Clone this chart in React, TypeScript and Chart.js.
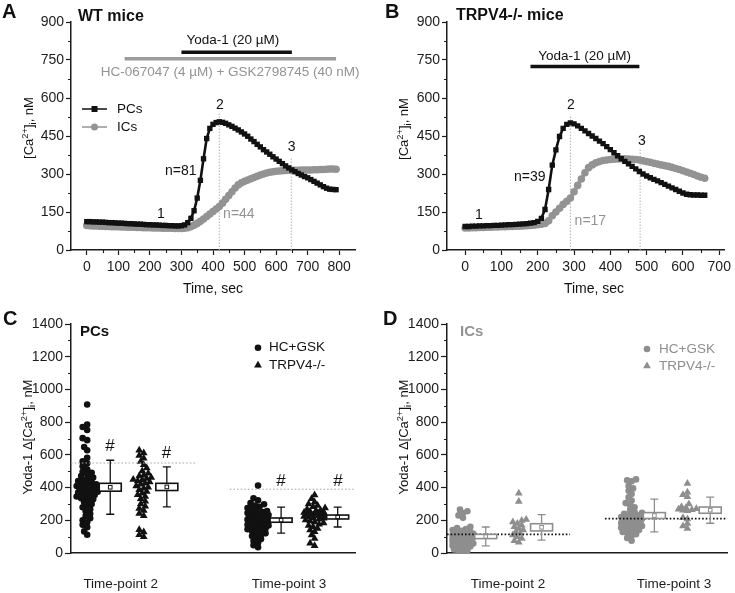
import React, { useEffect, useRef } from 'react';
import { Chart, registerables } from 'chart.js';

Chart.register(...registerables);

const FONT = "'Liberation Sans', Arial, Helvetica, sans-serif";
const BLACK = '#111111';
const AXIS = '#1c1c1c';
const GRAY = '#939393';
const LIGHT = '#b4b4b4';

// ---------------- Panel A: WT mice (time course, 10 s sampling) ----------------
const timeA = [
  0, 10, 20, 30, 40, 50, 60, 70, 80, 90,
  100, 110, 120, 130, 140, 150, 160, 170, 180, 190,
  200, 210, 220, 230, 240, 250, 260, 270, 280, 290,
  300, 310, 320, 330, 340, 350, 360, 370, 380, 390,
  400, 410, 420, 430, 440, 450, 460, 470, 480, 490,
  500, 510, 520, 530, 540, 550, 560, 570, 580, 590,
  600, 610, 620, 630, 640, 650, 660, 670, 680, 690,
  700, 710, 720, 730, 740, 750, 760, 770, 780, 790,
];
const pcsA = [
  112, 112, 111, 111, 110, 110, 109, 108, 108, 107,
  106, 106, 105, 104, 104, 103, 102, 102, 101, 100,
  100, 99, 99, 98, 97, 97, 96, 96, 95, 95,
  96, 99, 108, 125, 155, 205, 275, 360, 440, 480,
  496, 503, 506, 504, 500, 494, 488, 481, 474, 466,
  458, 449, 438, 428, 417, 407, 396, 387, 378, 368,
  359, 350, 341, 332, 324, 316, 309, 302, 296, 290,
  285, 278, 271, 264, 257, 250, 244, 240, 239, 238,
];
const icsA = [
  97, 96, 95, 95, 94, 94, 93, 93, 92, 92,
  92, 91, 91, 90, 90, 90, 89, 89, 88, 88,
  88, 87, 87, 87, 86, 86, 86, 86, 85, 85,
  85, 86, 88, 92, 98, 105, 113, 122, 132, 142,
  152, 162, 172, 185, 200, 215, 230, 245, 257, 265,
  271, 276, 281, 286, 291, 296, 300, 304, 307, 309,
  311, 312, 313, 314, 315, 315, 315, 315, 316, 316,
  316, 316, 317, 317, 318, 318, 319, 320, 320, 319,
];
const yodaA = [300, 650];
const inhibitorsA = [120, 790];
const timePointsA = [420, 648];

// ---------------- Panel B: TRPV4-/- mice ----------------
const timeB = [
  0, 10, 20, 30, 40, 50, 60, 70, 80, 90,
  100, 110, 120, 130, 140, 150, 160, 170, 180, 190,
  200, 210, 220, 230, 240, 250, 260, 270, 280, 290,
  300, 310, 320, 330, 340, 350, 360, 370, 380, 390,
  400, 410, 420, 430, 440, 450, 460, 470, 480, 490,
  500, 510, 520, 530, 540, 550, 560, 570, 580, 590,
  600, 610, 620, 630, 640, 650, 660,
];
const pcsB = [
  93, 93, 94, 94, 95, 95, 96, 96, 97, 97,
  98, 99, 100, 100, 101, 102, 103, 104, 106, 108,
  113, 125, 160, 239, 335, 395, 448, 480, 496, 502,
  498, 490, 480, 470, 460, 450, 440, 430, 420, 408,
  396, 384, 372, 360, 350, 340, 330, 320, 310, 300,
  292, 285, 279, 273, 266, 259, 252, 245, 239, 232,
  225, 220, 218, 217, 217, 216, 216,
];
const icsB = [
  87, 87, 88, 88, 89, 89, 90, 90, 91, 91,
  92, 92, 93, 93, 94, 94, 95, 96, 97, 98,
  100, 102, 105, 115, 135, 150, 165, 180, 192, 205,
  230, 255, 280, 305, 325, 336, 344, 349, 353, 355,
  357, 358, 359, 360, 360, 359, 358, 357, 355, 352,
  349, 346, 342, 339, 336, 333, 330, 326, 322, 318,
  313, 308, 303, 298, 292, 287, 283,
];
const yodaB = [180, 480];
const timePointsB = [290, 482];

// ---------------- Tick labels ----------------
const xTicksA = [0, 100, 200, 300, 400, 500, 600, 700, 800];
const xTicksB = [0, 100, 200, 300, 400, 500, 600, 700];
const yTicksTrace = [0, 150, 300, 450, 600, 750, 900];
const yTicksDelta = [0, 200, 400, 600, 800, 1000, 1200, 1400];
const groupLabels = ['Time-point 2', 'Time-point 3'];
const legendLabels = ['HC+GSK', 'TRPV4-/-'];

// ---------------- Panel C: PCs, Yoda-1 delta ----------------
const pcsTp2Hc = [
  908, 785, 770, 752, 702, 690, 648, 628, 582, 560,
  548, 530, 512, 496, 490, 482, 470, 462, 452, 446,
  440, 432, 426, 420, 415, 410, 405, 400, 396, 390,
  388, 384, 380, 378, 374, 370, 366, 360, 355, 350,
  345, 340, 334, 328, 320, 310, 300, 290, 280, 268,
  255, 240, 226, 212, 200, 188, 172, 158, 132, 112,
];
const pcsTp2Ko = [
  628, 612, 596, 580, 560, 540, 520, 502, 488, 476,
  470, 462, 456, 450, 446, 440, 434, 426, 420, 410,
  402, 396, 386, 376, 366, 356, 346, 332, 316, 300,
  286, 272, 260, 242, 228, 142, 128, 112, 100,
];
const pcsTp3Hc = [
  412, 335, 322, 305, 298, 290, 282, 275, 268, 262,
  256, 250, 245, 240, 236, 232, 228, 224, 220, 216,
  212, 208, 204, 200, 196, 192, 188, 184, 180, 176,
  172, 168, 164, 160, 155, 150, 145, 140, 134, 128,
  120, 112, 104, 95, 85, 75, 62, 48, 35,
];
const pcsTp3Ko = [
  355, 332, 312, 300, 290, 282, 275, 268, 262, 258,
  254, 250, 247, 244, 241, 238, 235, 232, 229, 226,
  223, 220, 216, 212, 207, 202, 196, 190, 184, 176,
  168, 160, 150, 140, 130, 110, 88, 60, 45,
];
const pcsMean = [402, 404, 201, 220];
const pcsSem = [24, 22, 13, 12];
const pcsSd = [165, 122, 80, 61];
const pcsControl = [550, 390];

// ---------------- Panel D: ICs, Yoda-1 delta ----------------
const icsTp2Hc = [
  265, 255, 245, 230, 215, 160, 152, 146, 140, 135,
  130, 126, 122, 118, 115, 112, 110, 107, 104, 101,
  98, 95, 92, 90, 87, 84, 81, 78, 75, 72,
  69, 66, 62, 58, 54, 50, 45, 40, 35, 30,
  22, 15, 8, 0,
];
const icsTp2Ko = [365, 315, 205, 198, 190, 180, 170, 160, 150, 140, 130, 120, 110, 100, 88, 75, 65];
const icsTp3Hc = [
  450, 444, 438, 410, 395, 380, 360, 340, 320, 305,
  292, 280, 262, 252, 246, 240, 235, 230, 225, 220,
  215, 210, 205, 200, 196, 192, 188, 184, 180, 175,
  170, 165, 160, 155, 150, 145, 140, 134, 128, 122,
  115, 105, 92, 75,
];
const icsTp3Ko = [425, 372, 356, 344, 300, 282, 276, 270, 267, 264, 261, 258, 215, 208, 180, 165, 150];
const icsMean = [101, 157, 229, 262];
const icsSem = [13, 22, 18, 19];
const icsSd = [58, 78, 100, 80];
const icsControl = [114, 210];

// ---------------- layout helpers (positions only) ----------------
const GROUP_X = [0.7, 3.15, 8.1, 10.55];
const BOX_X = [1.7, 4.15, 9.1, 11.55];
const Y_PX = 229 / 1400;
const X_PX = 284 / 12.3;

type Pt = { x: number; y: number };
const series = (t: number[], v: number[]): Pt[] => t.map((x, i) => ({ x, y: v[i] }));
const hline = (x0: number, x1: number, y: number): Pt[] => [{ x: x0, y }, { x: x1, y }];
const vline = (x: number, y0: number, y1: number): Pt[] => [{ x, y: y0 }, { x, y: y1 }];
const mids = (t: number[]) => t.slice(1).map((v, i) => (v + t[i]) / 2);

function swarm(values: number[], center: number): Pt[] {
  const order = values.map((_, i) => i).sort((a, b) => values[a] - values[b]);
  const placed: Pt[] = [];
  const out: Pt[] = new Array(values.length);
  const MIN_D = 4.4, STEP = 1.5, MAX_OFF = 11;
  for (const i of order) {
    const y = values[i] * Y_PX;
    let best = 0, bestD = -1;
    for (let k = 0; k <= 16; k++) {
      const off = (k % 2 === 1 ? -1 : 1) * Math.ceil(k / 2) * STEP;
      if (Math.abs(off) > MAX_OFF) continue;
      let d = Infinity;
      for (const p of placed) {
        if (Math.abs(p.y - y) < MIN_D) {
          const dd = Math.hypot(p.x - off, p.y - y);
          if (dd < d) d = dd;
        }
      }
      if (d >= MIN_D) { best = off; bestD = d; break; }
      if (d > bestD) { bestD = d; best = off; }
    }
    placed.push({ x: best, y });
    out[i] = { x: center + best / X_PX, y: values[i] };
  }
  return out;
}

const fixedTicks = (vals: number[]) => (scale: any) => { scale.ticks = vals.map((v) => ({ value: v })); };
const gridOpts = (len: number, draw = true) => ({ drawOnChartArea: false, drawTicks: draw, tickLength: draw ? len : 0, tickColor: AXIS, tickWidth: 1.2, color: AXIS, lineWidth: 1 });
const borderOpts = { display: true, color: AXIS, width: 1.5 };
const tickOpts = (padding: number, size = 14, cb?: any) => ({
  padding, font: { size, family: FONT }, color: AXIS, autoSkip: false, maxRotation: 0, minRotation: 0,
  callback: cb ?? ((v: number) => String(v)),
});
const base = (padding: any) => ({
  responsive: false, animation: false as const, devicePixelRatio: 1, events: [] as any[],
  layout: { autoPadding: false, padding },
  plugins: { legend: { display: false }, tooltip: { enabled: false } },
});

const lineDs = (data: Pt[], color: string, width: number, dash: number[] = []) => ({
  data, showLine: true, borderColor: color, borderWidth: width, borderDash: dash, pointRadius: 0, fill: false,
});
const traceDs = (data: Pt[], color: string, style: string, r: number, lw: number) => ({
  data, showLine: true, borderColor: color, borderWidth: lw, pointStyle: style, pointRadius: r,
  pointBackgroundColor: color, pointBorderColor: color, pointBorderWidth: 0,
});
const pointDs = (data: Pt[], style: string, r: number, color: string) => ({
  data, showLine: false, pointStyle: style, pointRadius: r,
  pointBackgroundColor: color, pointBorderColor: color, pointBorderWidth: 0,
});

type Note = { t: string; x: number; y: number; xd?: boolean; yd?: boolean; size?: number; bold?: boolean; color?: string; align?: CanvasTextAlign };
const fnt = (size: number, bold = false) => `${bold ? 'bold ' : ''}${size}px ${FONT}`;

function drawNotes(chart: any, notes: Note[]) {
  const ctx: CanvasRenderingContext2D = chart.ctx;
  const X = chart.scales.x, Y = chart.scales.y;
  ctx.save();
  for (const n of notes) {
    const px = n.xd ? X.getPixelForValue(n.x) : n.x;
    const py = n.yd ? Y.getPixelForValue(n.y) : n.y;
    ctx.font = fnt(n.size ?? 14, n.bold);
    ctx.fillStyle = n.color ?? BLACK;
    ctx.textAlign = n.align ?? 'center';
    ctx.textBaseline = 'middle';
    ctx.fillText(n.t, px, py);
  }
  ctx.restore();
}

type Part = [string, number];
const CA_TITLE: Part[] = [['[Ca', 0], ['2+', 1], [']', 0], ['i', -1], [', nM', 0]];
const DELTA_TITLE: Part[] = [['Yoda-1 Δ[Ca', 0], ['2+', 1], [']', 0], ['i', -1], [', nM', 0]];

function drawRich(ctx: CanvasRenderingContext2D, parts: Part[], x: number, y: number, size: number, color: string) {
  ctx.save();
  ctx.translate(x, y);
  ctx.rotate(-Math.PI / 2);
  const small = size * 0.72;
  let total = 0;
  const widths = parts.map(([t, m]) => {
    ctx.font = fnt(m ? small : size);
    const w = ctx.measureText(t).width;
    total += w;
    return w;
  });
  let cx = -total / 2;
  ctx.fillStyle = color;
  ctx.textAlign = 'left';
  ctx.textBaseline = 'alphabetic';
  parts.forEach(([t, m], i) => {
    ctx.font = fnt(m ? small : size);
    const dy = m === 1 ? -size * 0.38 : m === -1 ? size * 0.22 : 0;
    ctx.fillText(t, cx, size * 0.36 + dy);
    cx += widths[i];
  });
  ctx.restore();
}

function drawMinor(chart: any, xMinor: number[], yMinor: number[], len = 3) {
  const ctx: CanvasRenderingContext2D = chart.ctx;
  const area = chart.chartArea;
  const X = chart.scales.x, Y = chart.scales.y;
  ctx.save();
  ctx.strokeStyle = AXIS;
  ctx.lineWidth = 1.1;
  ctx.beginPath();
  for (const v of yMinor) {
    const py = Math.round(Y.getPixelForValue(v)) + 0.5;
    ctx.moveTo(area.left - len, py);
    ctx.lineTo(area.left, py);
  }
  for (const v of xMinor) {
    const px = Math.round(X.getPixelForValue(v)) + 0.5;
    ctx.moveTo(px, area.bottom);
    ctx.lineTo(px, area.bottom + len);
  }
  ctx.stroke();
  ctx.restore();
}

function drawBoxes(chart: any, xs: number[], mean: number[], sem: number[], sd: number[], color: string) {
  const ctx: CanvasRenderingContext2D = chart.ctx;
  const X = chart.scales.x, Y = chart.scales.y;
  ctx.save();
  xs.forEach((xv, i) => {
    const cx = X.getPixelForValue(xv);
    const top = Y.getPixelForValue(mean[i] + sd[i]);
    const bot = Y.getPixelForValue(mean[i] - sd[i]);
    ctx.strokeStyle = color;
    ctx.lineWidth = 1.3;
    ctx.beginPath();
    ctx.moveTo(cx, top); ctx.lineTo(cx, bot);
    ctx.moveTo(cx - 4, top); ctx.lineTo(cx + 4, top);
    ctx.moveTo(cx - 4, bot); ctx.lineTo(cx + 4, bot);
    ctx.stroke();
    const b1 = Y.getPixelForValue(mean[i] + sem[i]);
    const b2 = Y.getPixelForValue(mean[i] - sem[i]);
    ctx.fillStyle = '#ffffff';
    ctx.fillRect(cx - 11, b1, 22, b2 - b1);
    ctx.lineWidth = 1.6;
    ctx.strokeRect(cx - 11, b1, 22, b2 - b1);
    const m = Y.getPixelForValue(mean[i]);
    ctx.lineWidth = 1;
    ctx.strokeRect(cx - 1.8, m - 1.8, 3.6, 3.6);
  });
  ctx.restore();
}

function drawMarkerLegend(ctx: CanvasRenderingContext2D, x: number, y1: number, y2: number, tx: number, color: string) {
  ctx.save();
  ctx.fillStyle = color;
  ctx.beginPath();
  ctx.arc(x, y1, 3.3, 0, Math.PI * 2);
  ctx.fill();
  const r = 4.5;
  ctx.beginPath();
  ctx.moveTo(x, y2 - r);
  ctx.lineTo(x + 0.866 * r, y2 + 0.5 * r);
  ctx.lineTo(x - 0.866 * r, y2 + 0.5 * r);
  ctx.closePath();
  ctx.fill();
  ctx.font = fnt(13.5);
  ctx.textAlign = 'left';
  ctx.textBaseline = 'middle';
  ctx.fillText(legendLabels[0], tx, y1);
  ctx.fillText(legendLabels[1], tx, y2);
  ctx.restore();
}

function drawTraceLegend(ctx: CanvasRenderingContext2D) {
  ctx.save();
  ctx.lineWidth = 1.5;
  ctx.strokeStyle = BLACK;
  ctx.beginPath(); ctx.moveTo(82, 109); ctx.lineTo(107, 109); ctx.stroke();
  ctx.fillStyle = BLACK;
  ctx.fillRect(91.5, 106, 6, 6);
  ctx.strokeStyle = GRAY;
  ctx.beginPath(); ctx.moveTo(82, 127); ctx.lineTo(107, 127); ctx.stroke();
  ctx.fillStyle = GRAY;
  ctx.beginPath(); ctx.arc(94.5, 127, 3.5, 0, Math.PI * 2); ctx.fill();
  ctx.fillStyle = BLACK;
  ctx.font = fnt(13.5);
  ctx.textAlign = 'left';
  ctx.textBaseline = 'middle';
  ctx.fillText('PCs', 117, 109);
  ctx.fillText('ICs', 117, 127);
  ctx.restore();
}

const decor = (fn: (chart: any) => void) => ({ id: 'decor', afterDraw: fn });

// ---------------- chart builders ----------------
const buildA = () => ({
  type: 'scatter',
  data: {
    datasets: [
      traceDs(series(timeA, pcsA), BLACK, 'rect', 3.8, 2.6),
      traceDs(series(timeA, icsA), GRAY, 'circle', 3.8, 3.6),
      lineDs(hline(yodaA[0], yodaA[1], 781), BLACK, 3.5),
      lineDs(hline(inhibitorsA[0], inhibitorsA[1], 755), '#9c9c9c', 3.5),
      lineDs(vline(timePointsA[0], 0, 545), LIGHT, 1, [1.5, 1.5]),
      lineDs(vline(timePointsA[1], 0, 365), LIGHT, 1, [1.5, 1.5]),
    ],
  },
  options: {
    ...base({ top: 22, right: 21, left: 0, bottom: 0 }),
    scales: {
      x: { type: 'linear', min: -50, max: 850, afterBuildTicks: fixedTicks(xTicksA), afterFit: (s: any) => { s.height = 50; }, grid: gridOpts(5), border: borderOpts, ticks: tickOpts(4) },
      y: { type: 'linear', min: 0, max: 900, afterBuildTicks: fixedTicks(yTicksTrace), afterFit: (s: any) => { s.width = 71; }, grid: gridOpts(5), border: borderOpts, ticks: tickOpts(2) },
    },
  },
  plugins: [decor((chart) => {
    drawMinor(chart, mids(xTicksA), mids(yTicksTrace));
    drawNotes(chart, [
      { t: 'A', x: 2, y: 12, size: 20, bold: true, align: 'left' },
      { t: 'WT mice', x: 78, y: 17, size: 16, bold: true, align: 'left' },
      { t: 'Yoda-1 (20 µM)', x: 463, y: 827, xd: true, yd: true, size: 13.5 },
      { t: 'HC-067047 (4 µM) + GSK2798745 (40 nM)', x: 454, y: 702, xd: true, yd: true, size: 13.5, color: GRAY },
      { t: '1', x: 235, y: 140, xd: true, yd: true },
      { t: '2', x: 422, y: 570, xd: true, yd: true },
      { t: '3', x: 649, y: 405, xd: true, yd: true },
      { t: 'n=81', x: 298, y: 311, xd: true, yd: true },
      { t: 'n=44', x: 482, y: 140, xd: true, yd: true, color: GRAY },
      { t: 'Time, sec', x: 213, y: 289 },
    ]);
    drawRich(chart.ctx, CA_TITLE, 28, 128, 13, BLACK);
    drawTraceLegend(chart.ctx);
  })],
});

const buildB = () => ({
  type: 'scatter',
  data: {
    datasets: [
      traceDs(series(timeB, pcsB), BLACK, 'rect', 3.8, 2.6),
      traceDs(series(timeB, icsB), GRAY, 'circle', 3.8, 3.6),
      lineDs(hline(yodaB[0], yodaB[1], 724), BLACK, 3.5),
      lineDs(vline(timePointsB[0], 0, 534), LIGHT, 1, [1.5, 1.5]),
      lineDs(vline(timePointsB[1], 0, 403), LIGHT, 1, [1.5, 1.5]),
    ],
  },
  options: {
    ...base({ top: 22, right: 4, left: 0, bottom: 0 }),
    scales: {
      x: { type: 'linear', min: -50, max: 714, afterBuildTicks: fixedTicks(xTicksB), afterFit: (s: any) => { s.height = 50; }, grid: gridOpts(5), border: borderOpts, ticks: tickOpts(4) },
      y: { type: 'linear', min: 0, max: 900, afterBuildTicks: fixedTicks(yTicksTrace), afterFit: (s: any) => { s.width = 71; }, grid: gridOpts(5), border: borderOpts, ticks: tickOpts(2) },
    },
  },
  plugins: [decor((chart) => {
    drawMinor(chart, mids(xTicksB), mids(yTicksTrace));
    drawNotes(chart, [
      { t: 'B', x: 9, y: 12, size: 20, bold: true, align: 'left' },
      { t: 'TRPV4-/- mice', x: 80, y: 16, size: 16, bold: true, align: 'left' },
      { t: 'Yoda-1 (20 µM)', x: 329, y: 763, xd: true, yd: true, size: 13.5 },
      { t: '1', x: 38, y: 137, xd: true, yd: true },
      { t: '2', x: 291, y: 570, xd: true, yd: true },
      { t: '3', x: 487, y: 429, xd: true, yd: true },
      { t: 'n=39', x: 178, y: 289, xd: true, yd: true },
      { t: 'n=17', x: 345, y: 114, xd: true, yd: true, color: GRAY },
      { t: 'Time, sec', x: 355, y: 289, xd: true },
    ]);
    drawRich(chart.ctx, CA_TITLE, 27, 129, 13, BLACK);
  })],
});

const buildDelta = (opts: {
  groups: number[][]; mean: number[]; sem: number[]; sd: number[]; control: number[];
  color: string; ctrlColor: string; ctrlWidth: number; labelX: number[];
  ctrlSpans: number[][]; notes: Note[]; legendX: number; legendTX: number; legendY: number[];
}) => ({
  type: 'scatter',
  data: {
    datasets: [
      lineDs(hline(opts.ctrlSpans[0][0], opts.ctrlSpans[0][1], opts.control[0]), opts.ctrlColor, opts.ctrlWidth, [1.6, 2]),
      lineDs(hline(opts.ctrlSpans[1][0], opts.ctrlSpans[1][1], opts.control[1]), opts.ctrlColor, opts.ctrlWidth, [1.6, 2]),
      pointDs(swarm(opts.groups[0], GROUP_X[0]), 'circle', 3.3, opts.color),
      pointDs(swarm(opts.groups[1], GROUP_X[1]), 'triangle', 4.5, opts.color),
      pointDs(swarm(opts.groups[2], GROUP_X[2]), 'circle', 3.3, opts.color),
      pointDs(swarm(opts.groups[3], GROUP_X[3]), 'triangle', 4.5, opts.color),
    ],
  },
  options: {
    ...base({ top: 24, right: 0, left: 0, bottom: 0 }),
    scales: {
      x: {
        type: 'linear', min: 0, max: 12.3, afterBuildTicks: fixedTicks(opts.labelX),
        afterFit: (s: any) => { s.height = 40; }, grid: gridOpts(0, false), border: borderOpts,
        ticks: tickOpts(23, 13.5, (_v: number, i: number) => groupLabels[i]),
      },
      y: { type: 'linear', min: 0, max: 1400, afterBuildTicks: fixedTicks(yTicksDelta), afterFit: (s: any) => { s.width = 71; }, grid: gridOpts(6), border: borderOpts, ticks: tickOpts(2) },
    },
  },
  plugins: [decor((chart) => {
    drawMinor(chart, [], mids(yTicksDelta));
    drawBoxes(chart, BOX_X, opts.mean, opts.sem, opts.sd, opts.color);
    drawNotes(chart, opts.notes);
    drawRich(chart.ctx, DELTA_TITLE, 27, 137, 13, BLACK);
    drawMarkerLegend(chart.ctx, opts.legendX, opts.legendY[0], opts.legendY[1], opts.legendTX, opts.color);
  })],
});

const buildC = () => {
  const cfg: any = buildDelta({
    groups: [pcsTp2Hc, pcsTp2Ko, pcsTp3Hc, pcsTp3Ko], mean: pcsMean, sem: pcsSem, sd: pcsSd, control: pcsControl,
    color: BLACK, ctrlColor: '#a5a5a5', ctrlWidth: 1, labelX: [2.15, 9.44], ctrlSpans: [[0, 5.37], [6.88, 12.3]],
    legendX: 258, legendTX: 269, legendY: [47.7, 65.3],
    notes: [
      { t: 'C', x: 3, y: 19, size: 20, bold: true, align: 'left' },
      { t: 'PCs', x: 80, y: 32, size: 15, bold: true, align: 'left' },
      { t: '#', x: 1.69, y: 650, xd: true, yd: true, size: 17 },
      { t: '#', x: 4.14, y: 611, xd: true, yd: true, size: 17 },
      { t: '#', x: 9.09, y: 436, xd: true, yd: true, size: 17 },
      { t: '#', x: 11.56, y: 436, xd: true, yd: true, size: 17 },
    ],
  });
  cfg.options.layout.padding.right = 21;
  return cfg;
};

const buildD = () => {
  const cfg: any = buildDelta({
    groups: [icsTp2Hc, icsTp2Ko, icsTp3Hc, icsTp3Ko], mean: icsMean, sem: icsSem, sd: icsSd, control: icsControl,
    color: '#8e8e8e', ctrlColor: '#111111', ctrlWidth: 1.8, labelX: [2.68, 9.96], ctrlSpans: [[0, 5.4], [6.93, 12.3]],
    legendX: 271, legendTX: 283, legendY: [49, 66],
    notes: [
      { t: 'D', x: 7, y: 19, size: 20, bold: true, align: 'left' },
      { t: 'ICs', x: 84, y: 32, size: 15, bold: true, align: 'left', color: GRAY },
    ],
  });
  cfg.options.layout.padding.right = 4;
  return cfg;
};

function ChartCanvas({ left, top, width, height, build }: { left: number; top: number; width: number; height: number; build: () => any }) {
  const ref = useRef<HTMLCanvasElement | null>(null);
  useEffect(() => {
    if (!ref.current) return;
    const chart = new Chart(ref.current, build());
    return () => chart.destroy();
  }, []);
  return <canvas ref={ref} width={width} height={height} style={{ position: 'absolute', left, top, width, height }} />;
}

export default function App() {
  return (
    <div style={{ position: 'absolute', left: 0, top: 0, width: 735, height: 593, background: '#ffffff', overflow: 'hidden' }}>
      <ChartCanvas left={0} top={0} width={376} height={300} build={buildA} />
      <ChartCanvas left={376} top={0} width={359} height={300} build={buildB} />
      <ChartCanvas left={0} top={300} width={376} height={293} build={buildC} />
      <ChartCanvas left={376} top={300} width={359} height={293} build={buildD} />
    </div>
  );
}
